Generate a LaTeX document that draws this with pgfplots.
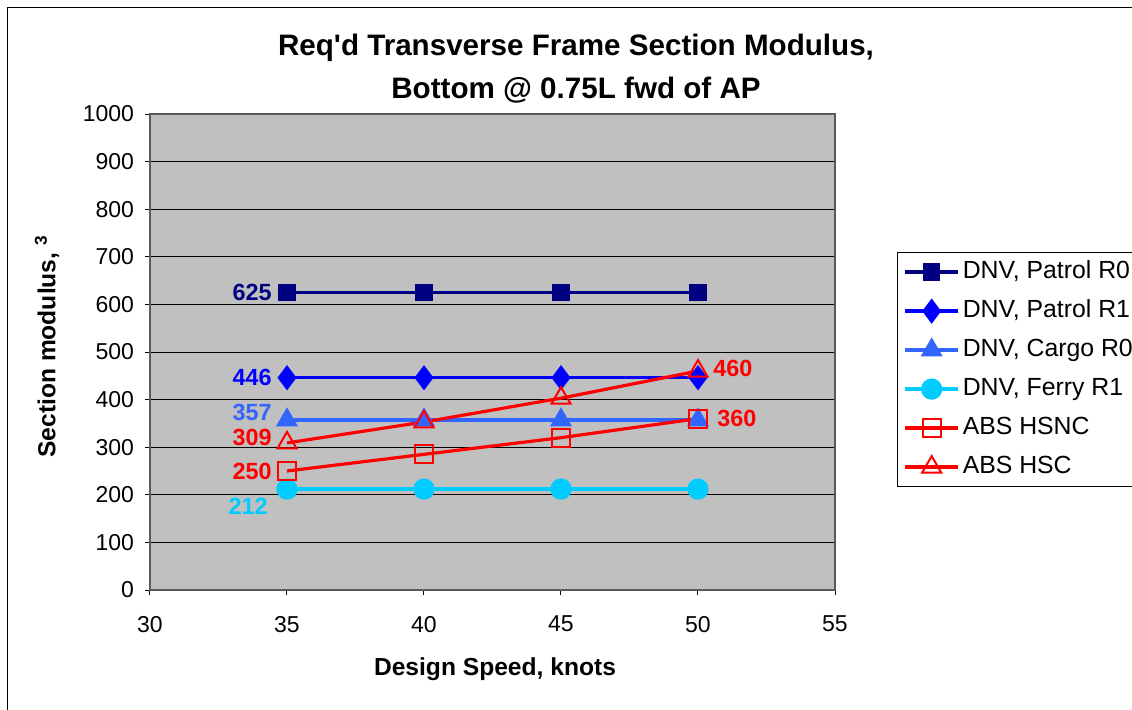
\documentclass[border=0pt]{standalone}
\usepackage{pgfplots}
\pgfplotsset{compat=1.18}
\usepackage{fontspec}
\setmainfont{Liberation Sans}[Ligatures=TeXOff]
\definecolor{pgray}{RGB}{192,192,192}
\definecolor{navyc}{RGB}{0,0,128}
\definecolor{bluec}{RGB}{0,0,255}
\definecolor{cargoc}{RGB}{51,102,255}
\definecolor{ferryc}{RGB}{0,204,255}
\definecolor{redc}{RGB}{255,0,0}
\begin{document}
\begin{tikzpicture}[x=0.5pt,y=0.5pt]
\useasboundingbox (0,0) rectangle (1132,709);
\begin{scope}
\clip (0,0) rectangle (1132,709);
\draw[line width=0.9pt] (7.5,-20) rectangle (1160,701.5);
\node[font=\fontsize{14.8}{17}\bfseries\selectfont] at (576,661) {Req'd Transverse Frame Section Modulus,};
\node[font=\fontsize{14.8}{17}\bfseries\selectfont] at (576,619) {Bottom @ 0.75L fwd of AP};
\node[font=\fontsize{12.3}{14}\bfseries\selectfont] at (495,40) {Design Speed, knots};
\node[rotate=90, anchor=west, inner sep=0pt, font=\fontsize{12.3}{14}\bfseries\selectfont] at (47,251) {Section modulus, \textsuperscript{3}};
\begin{axis}[
 at={(75pt,59.5pt)}, anchor=south west,
 scale only axis, width=342.5pt, height=238pt,
 xmin=30, xmax=55, ymin=0, ymax=1000,
 xtick={30,35,...,55}, ytick={0,100,...,1000},
 axis background/.style={fill=pgray},
 axis line style={draw=black!65, line width=0.75pt},
 ymajorgrids, major grid style={black, line width=0.5pt},
 tick pos=left, tick align=outside, major tick length=2.5pt,
 tick style={black, line width=0.5pt},
 ticklabel style={font=\fontsize{11.5}{13}\selectfont},
 xticklabel style={yshift=-7pt},
 yticklabel style={xshift=-2pt},
 /pgf/number format/assume math mode=true,
 /pgf/number format/1000 sep={},
 clip=false,
 legend cell align=left,
 legend style={at={(1.0905,0.7101)}, anchor=north west, draw=black, line width=0.6pt,
   inner xsep=3pt, inner ysep=0pt,
   nodes={inner xsep=1.5pt, inner ysep=4pt, text height=9pt, text depth=2.5pt,
   font=\fontsize{12.4}{14}\selectfont}},
 legend image code/.code={\draw[mark repeat=2,mark phase=2] plot coordinates {(0pt,0pt) (13.25pt,0pt) (26.5pt,0pt)};},
]
\addplot[navyc, line width=1.6pt, mark=square*, mark size=3.5pt, mark options={solid}] coordinates {(35,625) (40,625) (45,625) (50,625)};
\addlegendentry{DNV, Patrol R0}
\addplot[bluec, line width=1.6pt, mark=diamond*, mark size=5pt] coordinates {(35,446) (40,446) (45,446) (50,446)};
\addlegendentry{DNV, Patrol R1}
\addplot[cargoc, line width=1.6pt, mark=triangle*, mark size=4.8pt] coordinates {(35,357) (40,357) (45,357) (50,357)};
\addlegendentry{DNV, Cargo R0}
\addplot[ferryc, line width=1.6pt, mark=*, mark size=4.5pt] coordinates {(35,212) (40,212) (45,212) (50,212)};
\addlegendentry{DNV, Ferry R1}
\addplot[redc, line width=1.6pt, mark=square, mark size=4.5pt, mark options={line width=1pt, fill=none}] coordinates {(35,250) (40,285) (45,320) (50,360)};
\addlegendentry{ABS HSNC}
\addplot[redc, line width=1.6pt, mark=triangle, mark size=5.5pt, mark options={line width=1pt, fill=none}] coordinates {(35,309) (40,353) (45,403) (50,460)};
\addlegendentry{ABS HSC}
\begin{scope}[font=\fontsize{11.7}{13}\bfseries\selectfont, inner sep=0pt]
\node[navyc, anchor=east] at ([xshift=-7.5pt]axis cs:35,625) {625};
\node[bluec, anchor=east] at ([xshift=-7.5pt]axis cs:35,446) {446};
\node[cargoc, anchor=east] at ([xshift=-7.5pt,yshift=4pt]axis cs:35,357) {357};
\node[redc, anchor=east] at ([xshift=-7.5pt,yshift=2.5pt]axis cs:35,309) {309};
\node[redc, anchor=east] at ([xshift=-7.5pt]axis cs:35,250) {250};
\node[ferryc, anchor=east] at ([xshift=-9.5pt,yshift=-8.5pt]axis cs:35,212) {212};
\node[redc, anchor=west] at ([xshift=7.5pt,yshift=1.5pt]axis cs:50,460) {460};
\node[redc, anchor=west] at ([xshift=9.5pt]axis cs:50,360) {360};
\end{scope}
\end{axis}
\end{scope}
\end{tikzpicture}
\end{document}
